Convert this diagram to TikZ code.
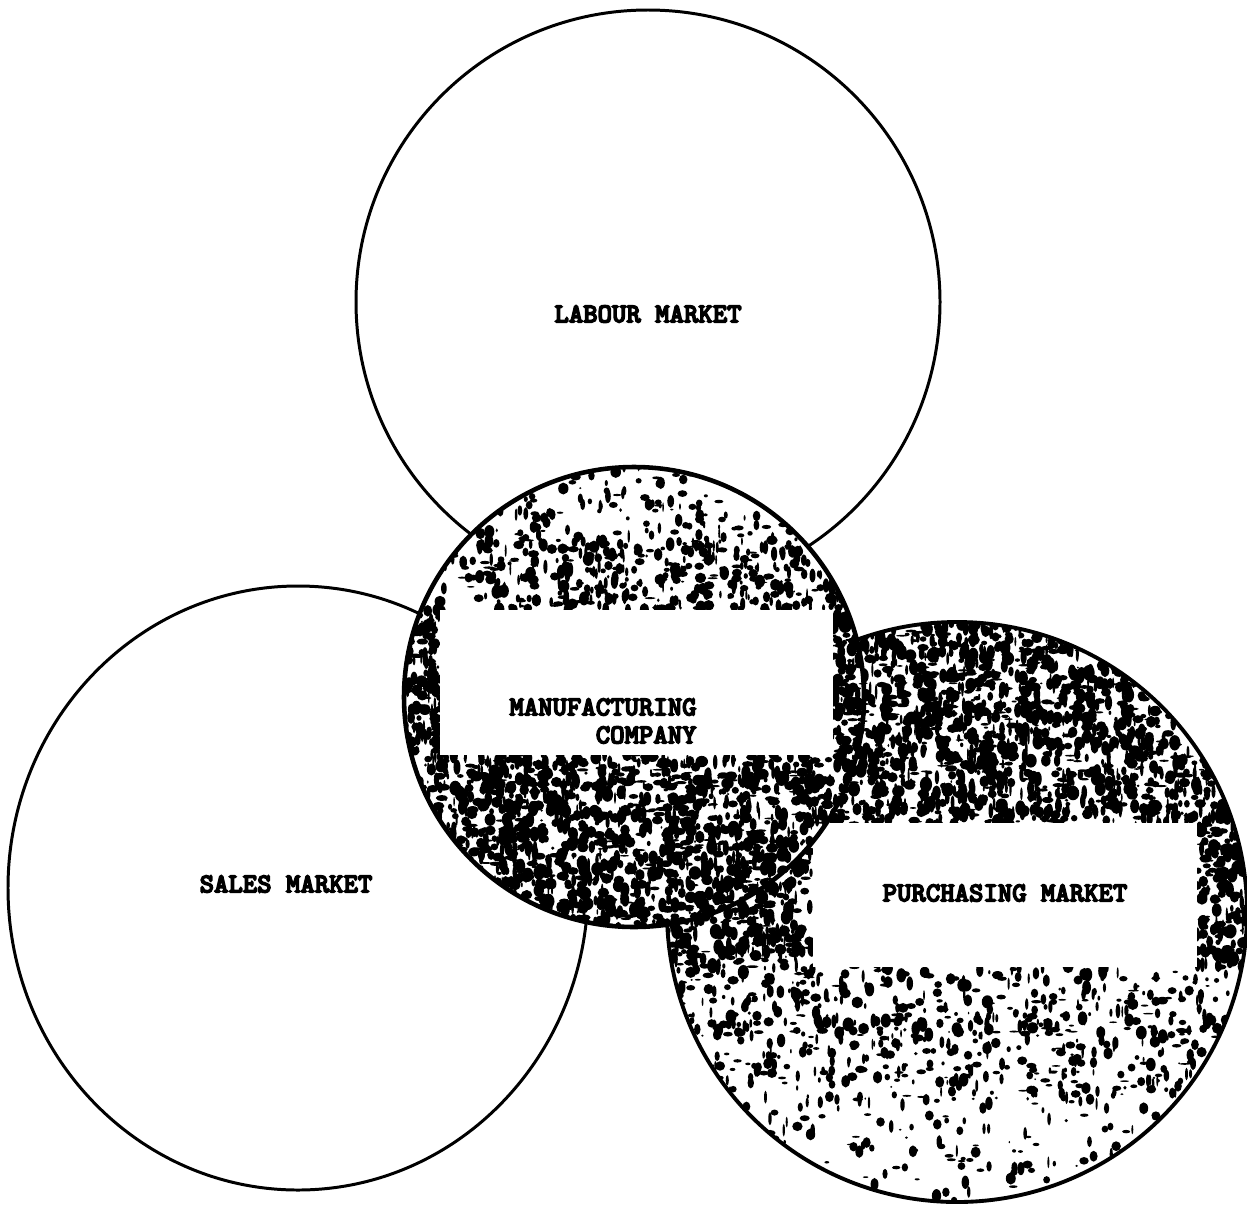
\documentclass[tikz,border=0pt]{standalone}
\usepackage{fontspec}
\newfontfamily\tw{lmmonolt10-bold}[Extension=.otf,FakeBold=5]
\newcommand\specks[7]{% xmin width ymin height count amax bmax
  \foreach \k in {1,...,#5}{%
    \pgfmathsetmacro\spX{#1+#2*rnd}%
    \pgfmathsetmacro\spY{#3+#4*rnd}%
    \pgfmathsetmacro\spA{0.8+#6*rnd}%
    \pgfmathsetmacro\spB{0.8+#7*rnd}%
    \fill (\spX,\spY) ellipse [x radius=\spA, y radius=\spB];
  }}
\begin{document}
\begin{tikzpicture}[x=0.02cm,y=-0.02cm,
  thin outline/.style={draw=black,line width=1.7pt},
  thick outline/.style={draw=black,line width=2.6pt},
  lbl/.style={font=\tw\fontsize{15.6}{15.9}\selectfont, inner sep=0pt, align=center}]
\pgfmathsetseed{7}
\useasboundingbox (0,0) rectangle (1247,1207);
\fill[white] (0,0) rectangle (1247,1207);

% labour market
\draw[thin outline] (648,302) circle (292);
% sales market
\draw[thin outline] (298,888) ellipse [x radius=290, y radius=302];

% purchasing market
\begin{scope}
  \clip (957,912) circle (290);
  \specks{667}{580}{620}{203}{2600}{5.5}{7}
  \specks{667}{146}{823}{144}{480}{5.5}{7}
  \specks{1197}{50}{823}{144}{170}{5.5}{7}
  \specks{667}{580}{967}{70}{360}{5}{6.5}
  \specks{667}{580}{1020}{80}{200}{4.5}{6}
  \specks{667}{580}{1040}{162}{330}{4.5}{6}
  \fill[white] (813,823) rectangle (1197,967);
\end{scope}
\draw[line width=2.2pt] (957,912) circle (290);

% manufacturing company
\fill[white] (634,697) circle (230);
\begin{scope}
  \clip (634,697) circle (230);
  \specks{404}{460}{462}{78}{260}{4.5}{6}
  \specks{404}{460}{540}{70}{480}{5}{6.5}
  \specks{404}{38}{610}{147}{150}{5.5}{7}
  \specks{831}{33}{610}{147}{140}{5.5}{7}
  \specks{404}{460}{755}{175}{1900}{5.5}{7}
  \fill[white] (440,610) rectangle (833,755);
\end{scope}
\draw[thick outline] (634,697) circle (230);

% labels
\node[lbl] (labour) at (648,314) {LABOUR MARKET};
\node[lbl] (sales) at (286,884) {SALES MARKET};
\node[lbl, align=right] (manuf) at (603,721) {MANUFACTURING\\COMPANY};
\node[lbl] (purch) at (1005,893) {PURCHASING MARKET};
\end{tikzpicture}
\end{document}
